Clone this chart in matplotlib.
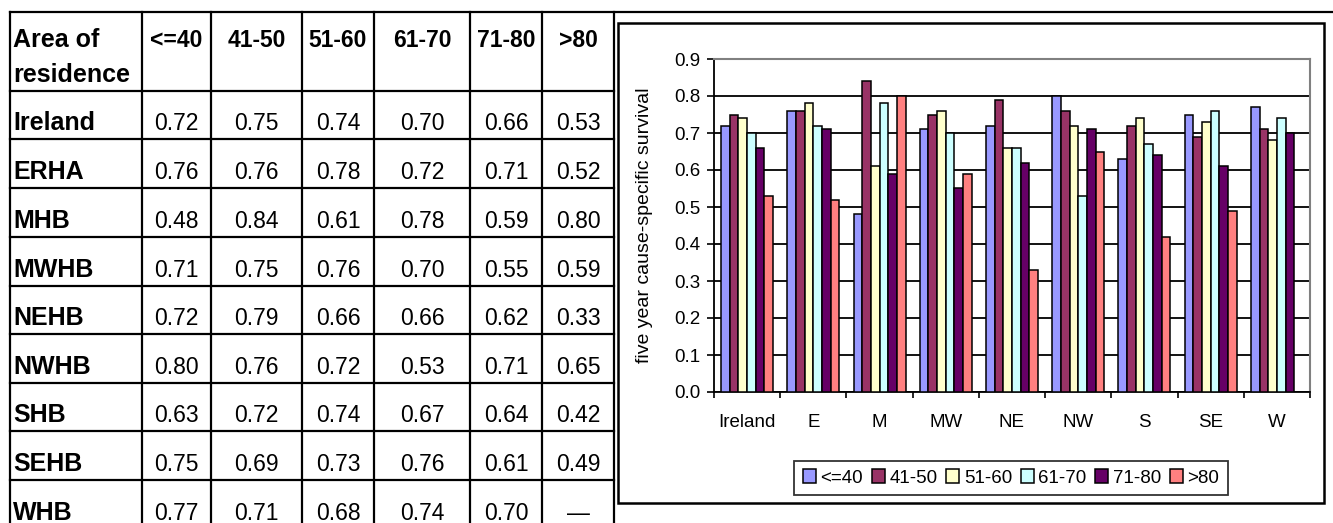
import numpy as np
import matplotlib
matplotlib.use("Agg")
import matplotlib.pyplot as plt
from matplotlib.patches import Rectangle

plt.rcParams['font.family'] = ['Liberation Sans', 'DejaVu Sans']

# data
age_groups = ['<=40', '41-50', '51-60', '61-70', '71-80', '>80']
areas = ['Ireland', 'ERHA', 'MHB', 'MWHB', 'NEHB', 'NWHB', 'SHB', 'SEHB', 'WHB']
short_names = ['Ireland', 'E', 'M', 'MW', 'NE', 'NW', 'S', 'SE', 'W']
survival = [
    [0.72, 0.75, 0.74, 0.70, 0.66, 0.53],
    [0.76, 0.76, 0.78, 0.72, 0.71, 0.52],
    [0.48, 0.84, 0.61, 0.78, 0.59, 0.80],
    [0.71, 0.75, 0.76, 0.70, 0.55, 0.59],
    [0.72, 0.79, 0.66, 0.66, 0.62, 0.33],
    [0.80, 0.76, 0.72, 0.53, 0.71, 0.65],
    [0.63, 0.72, 0.74, 0.67, 0.64, 0.42],
    [0.75, 0.69, 0.73, 0.76, 0.61, 0.49],
    [0.77, 0.71, 0.68, 0.74, 0.70, np.nan],
]
colors = ['#9999FF', '#993366', '#FFFFCC', '#CCFFFF', '#660066', '#FF8080']

W, H = 1333, 523
fig = plt.figure(figsize=(W / 100, H / 100), dpi=100)

# background layer in pixel coordinates for the table and chart frame
bg = fig.add_axes([0, 0, 1, 1], zorder=0)
bg.set_xlim(0, W)
bg.set_ylim(H, 0)
bg.axis('off')

col_x = [10, 142, 211, 302, 374, 470, 542, 614]
row_y = [12, 91, 139, 188, 237, 286, 334, 383, 431, 480, 529]
lw = 1.6

bg.plot([col_x[0], W], [row_y[0], row_y[0]], color='black', lw=lw)
for y in row_y[1:]:
    bg.plot([col_x[0], col_x[-1]], [y, y], color='black', lw=lw)
for x in col_x:
    bg.plot([x, x], [row_y[0], H], color='black', lw=lw)

# header
bg.text(col_x[0] + 3, 47, 'Area of', fontsize=18, fontweight='bold', va='baseline')
bg.text(col_x[0] + 3, 82, 'residence', fontsize=18, fontweight='bold', va='baseline')
for j, g in enumerate(age_groups):
    cx = (col_x[j + 1] + col_x[j + 2]) / 2
    bg.text(cx, 47, g, fontsize=16.5, fontweight='bold', ha='center', va='baseline')

# body
for i, area in enumerate(areas):
    base = row_y[i + 2] - 9
    bg.text(col_x[0] + 3, base, area, fontsize=18, fontweight='bold', va='baseline')
    for j, v in enumerate(survival[i]):
        cx = (col_x[j + 1] + col_x[j + 2]) / 2
        txt = '—' if np.isnan(v) else f'{v:.2f}'
        bg.text(cx, base, txt, fontsize=16.5, ha='center', va='baseline')

# chart frame
bg.add_patch(Rectangle((618, 23), 706, 480, fill=False, edgecolor='black', lw=1.8))

# bar chart
ax = fig.add_axes([714 / W, (H - 392) / H, (1310 - 714) / W, (392 - 59) / H], zorder=1)
x = np.arange(len(short_names))
bw = 0.131
vals = np.array(survival)
for k, g in enumerate(age_groups):
    ok = ~np.isnan(vals[:, k])
    ax.bar(x[ok] + (k - 2.5) * bw, vals[ok, k], width=bw, color=colors[k],
           edgecolor='black', linewidth=1.1, label=g, zorder=3)

ax.set_xlim(-0.5, len(short_names) - 0.5)
ax.set_ylim(0, 0.9)
ax.set_yticks(np.arange(0, 0.91, 0.1))
ax.set_yticklabels([f'{t:.1f}' for t in np.arange(0, 0.91, 0.1)], fontsize=13.5)
ax.yaxis.grid(True, color='black', lw=1.3, zorder=0)
ax.set_axisbelow(True)
ax.tick_params(axis='y', direction='out', length=5, width=1.2, pad=5)

ax.set_xticks(np.arange(-0.5, len(short_names)))
ax.set_xticklabels([])
ax.set_xticks(x, minor=True)
ax.set_xticklabels(short_names, minor=True, fontsize=13.5)
ax.tick_params(axis='x', which='major', direction='out', length=4, width=1.2)
ax.tick_params(axis='x', which='minor', length=0, pad=16)

for s in ['top', 'right']:
    ax.spines[s].set_color('#808080')
    ax.spines[s].set_linewidth(1.5)
for s in ['left', 'bottom']:
    ax.spines[s].set_color('black')
    ax.spines[s].set_linewidth(1.3)

ax.set_ylabel('five year cause-specific survival', fontsize=14)
ax.yaxis.set_label_coords(-0.102, 0.5)

leg = fig.legend(loc='center', bbox_to_anchor=(1011 / W, (H - 478) / H), ncol=6,
                 fontsize=13.5, frameon=True, fancybox=False, edgecolor='black',
                 handlelength=0.7, handleheight=0.7, handletextpad=0.25,
                 columnspacing=0.45, borderpad=0.45)
leg.get_frame().set_linewidth(1.3)

fig.savefig('out.png', dpi=100)
